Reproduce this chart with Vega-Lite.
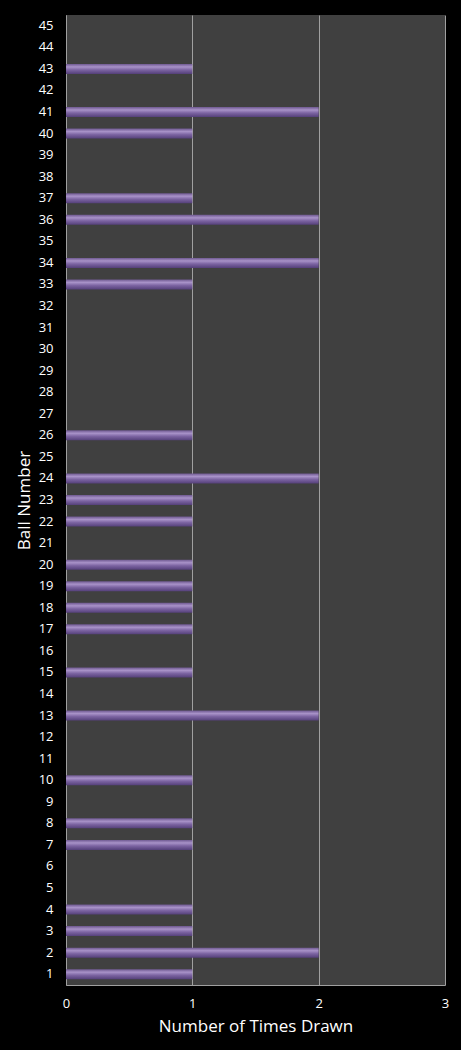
{
  "$schema": "https://vega.github.io/schema/vega-lite/v6.json",
  "width": 379,
  "height": 970,
  "autosize": {"type": "none"},
  "padding": {"left": 66, "top": 15, "right": 16, "bottom": 65},
  "background": "#000000",
  "config": {
    "view": {"fill": "#404040", "stroke": null},
    "font": "Open Sans"
  },
  "data": {
    "values": [
      {"ball": 1, "times": 1},
      {"ball": 2, "times": 2},
      {"ball": 3, "times": 1},
      {"ball": 4, "times": 1},
      {"ball": 7, "times": 1},
      {"ball": 8, "times": 1},
      {"ball": 10, "times": 1},
      {"ball": 13, "times": 2},
      {"ball": 15, "times": 1},
      {"ball": 17, "times": 1},
      {"ball": 18, "times": 1},
      {"ball": 19, "times": 1},
      {"ball": 20, "times": 1},
      {"ball": 22, "times": 1},
      {"ball": 23, "times": 1},
      {"ball": 24, "times": 2},
      {"ball": 26, "times": 1},
      {"ball": 33, "times": 1},
      {"ball": 34, "times": 2},
      {"ball": 36, "times": 2},
      {"ball": 37, "times": 1},
      {"ball": 40, "times": 1},
      {"ball": 41, "times": 2},
      {"ball": 43, "times": 1}
    ]
  },
  "mark": {
    "type": "bar",
    "size": 10,
    "color": {
      "gradient": "linear",
      "x1": 0, "y1": 0, "x2": 0, "y2": 1,
      "stops": [
        {"offset": 0, "color": "#6e5890"},
        {"offset": 0.3, "color": "#a892c8"},
        {"offset": 0.6, "color": "#7c64a2"},
        {"offset": 1, "color": "#55407a"}
      ]
    }
  },
  "encoding": {
    "x": {
      "field": "times",
      "type": "quantitative",
      "title": "Number of Times Drawn",
      "scale": {"domain": [0, 3], "nice": false},
      "axis": {
        "values": [0, 1, 2, 3],
        "grid": true,
        "gridColor": "#a0a0a0",
        "gridWidth": 1,
        "domainColor": "#a0a0a0",
        "ticks": false,
        "labelColor": "#ffffff",
        "labelFontSize": 13,
        "labelPadding": 12,
        "labelFlush": false,
        "titleColor": "#ffffff",
        "titleFontSize": 17,
        "titleFontWeight": "normal",
        "titlePadding": 8
      }
    },
    "y": {
      "field": "ball",
      "type": "ordinal",
      "title": "Ball Number",
      "scale": {
        "domain": [45,44,43,42,41,40,39,38,37,36,35,34,33,32,31,30,29,28,27,26,25,24,23,22,21,20,19,18,17,16,15,14,13,12,11,10,9,8,7,6,5,4,3,2,1],
        "paddingInner": 0.5,
        "paddingOuter": 0.25
      },
      "axis": {
        "ticks": false,
        "domainColor": "#a0a0a0",
        "labelColor": "#ffffff",
        "labelFontSize": 13,
        "labelPadding": 13,
        "titleColor": "#ffffff",
        "titleFontSize": 17,
        "titleFontWeight": "normal",
        "titlePadding": 5
      }
    }
  }
}
